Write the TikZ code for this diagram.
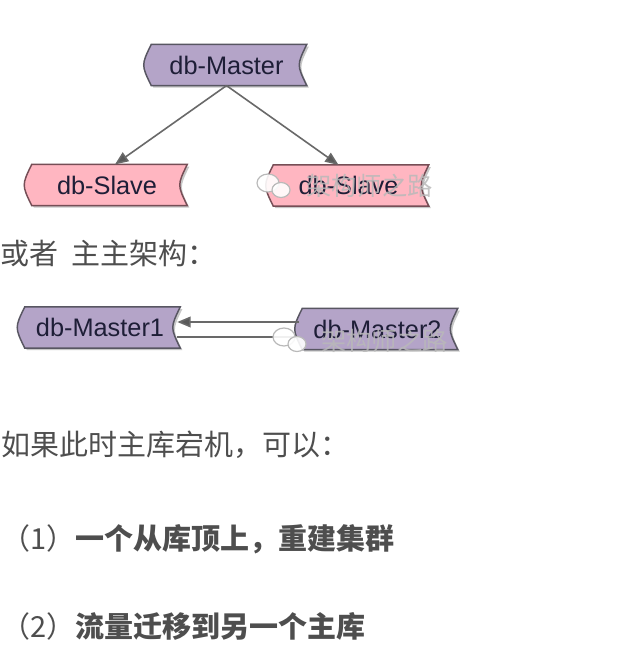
\documentclass[tikz,border=0pt]{standalone}
\usepackage{fontspec}
\setmainfont{Liberation Sans}
\newfontfamily\cjk{Noto Sans CJK SC}
\usetikzlibrary{arrows.meta,calc}
\pgfdeclarelayer{paper}
\pgfdeclarelayer{boxes}
\pgfsetlayers{paper,boxes,main}
\definecolor{mpurple}{RGB}{180,164,200}
\definecolor{mpink}{RGB}{255,182,193}
\definecolor{mborder}{RGB}{88,86,98}
\definecolor{sborder}{RGB}{118,78,86}
\definecolor{labeltext}{RGB}{30,30,55}
\definecolor{bodytext}{RGB}{78,78,78}
\definecolor{linegray}{RGB}{105,105,105}
\definecolor{wmgray}{RGB}{185,185,185}
% outline of a "stored data" box around a named node; #3 = shift (shadow)
\newcommand\dbshape[3]{%
  \path[#2] let \p1=(#1.north west), \p2=(#1.south east) in
    ({\x1+3.75pt+#3},{\y1-#3}) -- ({\x2+#3},{\y1-#3})
    .. controls ({\x2-7.5pt+#3},{(\y1+\y2)/2-#3}) .. ({\x2+#3},{\y2-#3})
    -- ({\x1+3.75pt+#3},{\y2-#3})
    .. controls ({\x1-3.75pt+#3},{(\y1+\y2)/2-#3}) .. ({\x1+3.75pt+#3},{\y1-#3}) -- cycle;}
\newcommand\dbdraw[3]{%
  \begin{pgfonlayer}{boxes}
    \dbshape{#1}{fill=black!22}{1.6pt}
    \dbshape{#1}{fill=#2,draw=#3,line width=1.1pt}{0pt}
  \end{pgfonlayer}}
\begin{document}
\begin{tikzpicture}[x=0.75pt,y=-0.75pt,
  dbbox/.style={inner sep=0pt,minimum width=120pt,minimum height=30.5pt,
    text=labeltext,font=\fontsize{19}{22}\selectfont},
  conn/.style={draw=linegray,line width=1.2pt,-{Triangle[length=10pt,width=8pt,fill=black!65]}},
  plain/.style={draw=linegray,line width=1.2pt},
  body/.style={inner sep=0pt,anchor=west,text=bodytext,font=\cjk\fontsize{21.75}{26}\selectfont},
  wm/.style={inner sep=0pt,text=wmgray,text opacity=0.85,font=\cjk\fontsize{19}{22}\selectfont},
  wmbub/.style={fill=white,fill opacity=0.9,draw=wmgray,line width=0.9pt}]
\begin{pgfonlayer}{paper}
\fill[white] (0,0) rectangle (640,648);
\end{pgfonlayer}
\useasboundingbox (0,0) rectangle (640,648);

% first diagram
\node[dbbox] (master) at (226.5,65) {db-Master};
\node[dbbox] (slave1) at (107,185) {db-Slave};
\node[dbbox] (slave2) at (348.5,185.5) {db-Slave};
\dbdraw{master}{mpurple}{mborder}
\dbdraw{slave1}{mpink}{sborder}
\dbdraw{slave2}{mpink}{sborder}
\draw[conn] (master.south) -- ($(slave1.north)+(8,0)$);
\draw[conn] (master.south) -- ($(slave2.north)+(-10,0)$);

% text
\node[body] (t1) at (0,253) {或者\hspace{0.45em}主主架构：};

% second diagram
\node[dbbox] (master1) at (100,327.5) {db-Master1};
\node[dbbox] (master2) at (377.5,329) {db-Master2};
\dbdraw{master1}{mpurple}{mborder}
\dbdraw{master2}{mpurple}{mborder}
\draw[conn] ($(master2.west)+(2,-7)$) -- ($(master1.east)+(-3,-5.5)$);
\draw[plain] ($(master1.east)+(-3,9.5)$) -- ($(master2.west)+(1,8)$);

% body text
\node[body] (t2) at (1,445) {如果此时主库宕机，可以：};
\node[body] (t3) at (1,539) {（1）{\bfseries 一个从库顶上，重建集群}};
\node[body] (t4) at (1,626) {（2）{\bfseries 流量迁移到另一个主库}};

% watermarks
\draw[wmbub] (268,183) ellipse [x radius=11,y radius=9];
\draw[wmbub] (281,190) ellipse [x radius=9,y radius=7.5];
\node[wm,anchor=west] (wm1) at (306,186) {架构师之路};
\draw[wmbub] (284,337) ellipse [x radius=11,y radius=9];
\draw[wmbub] (297,344) ellipse [x radius=9,y radius=7.5];
\node[wm,anchor=west] (wm2) at (321,341) {架构师之路};
\end{tikzpicture}
\end{document}
